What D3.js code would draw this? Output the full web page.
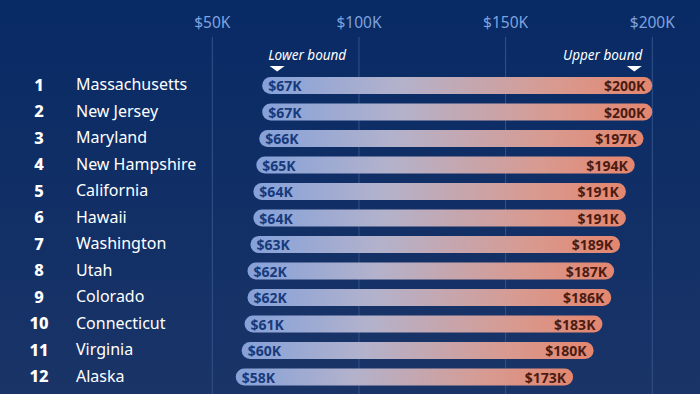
<!DOCTYPE html>
<html>
<head>
<meta charset="utf-8">
<script src="https://cdn.jsdelivr.net/npm/d3@7"></script>
<style>
  html, body { margin: 0; padding: 0; background: #0b2a63; }
  svg { display: block; font-family: "Noto Sans", "Open Sans", sans-serif; }
</style>
</head>
<body>
<div id="chart"></div>
<script>
const states = ["Massachusetts", "New Jersey", "Maryland", "New Hampshire", "California", "Hawaii",
  "Washington", "Utah", "Colorado", "Connecticut", "Virginia", "Alaska"];
const lower = [67, 67, 66, 65, 64, 64, 63, 62, 62, 61, 60, 58];
const upper = [200, 200, 197, 194, 191, 191, 189, 187, 186, 183, 180, 173];
const ticks = [50, 100, 150, 200];

const width = 700;
const height = 394;

const svg = d3.select("#chart")
  .append("svg")
  .attr("width", width)
  .attr("height", height);

const defs = svg.append("defs");

const bg = defs.append("linearGradient")
  .attr("id", "bg")
  .attr("x1", 0).attr("y1", 0).attr("x2", 0).attr("y2", 1);
bg.append("stop").attr("offset", "0%").attr("stop-color", "#082a65");
bg.append("stop").attr("offset", "100%").attr("stop-color", "#1a3467");

const barGrad = defs.append("linearGradient")
  .attr("id", "bar")
  .attr("x1", 0).attr("y1", 0).attr("x2", 1).attr("y2", 0);
barGrad.append("stop").attr("offset", "0%").attr("stop-color", "#85a1d9");
barGrad.append("stop").attr("offset", "35%").attr("stop-color", "#b3b2cc");
barGrad.append("stop").attr("offset", "75%").attr("stop-color", "#d89a90");
barGrad.append("stop").attr("offset", "100%").attr("stop-color", "#e4866f");

svg.append("rect")
  .attr("width", width)
  .attr("height", height)
  .attr("fill", "url(#bg)");

const x = d3.scaleLinear().domain([50, 200]).range([212.3, 652.3]);
const y = d3.scalePoint().domain(states).range([85.5, 377]);
const barH = 17;

// Gridlines + top tick labels
svg.append("g")
  .selectAll("line")
  .data(ticks)
  .join("line")
  .attr("x1", d => x(d)).attr("x2", d => x(d))
  .attr("y1", 37).attr("y2", height)
  .attr("stroke", "#33538a")
  .attr("stroke-width", 1);

svg.append("g")
  .selectAll("text")
  .data(ticks)
  .join("text")
  .attr("x", d => x(d))
  .attr("y", 28)
  .attr("text-anchor", "middle")
  .attr("font-size", 15.5)
  .attr("fill", "#7ea3df")
  .text(d => `$${d}K`);

// Lower / upper bound annotations
const notes = [
  { label: "Lower bound", pos: x(lower[0]) + 15, anchor: "start", tx: x(lower[0]) + 6 },
  { label: "Upper bound", pos: x(upper[0]) - 18, anchor: "end", tx: x(upper[0]) - 10 }
];
notes.forEach(n => {
  svg.append("text")
    .attr("x", n.tx)
    .attr("y", 60)
    .attr("text-anchor", n.anchor)
    .attr("font-size", 13.5)
    .attr("font-style", "italic")
    .attr("fill", "#ffffff")
    .text(n.label);
  svg.append("path")
    .attr("d", `M${n.pos - 7.5},66 L${n.pos + 7.5},66 L${n.pos},71.5 Z`)
    .attr("fill", "#ffffff");
});

const rows = svg.append("g")
  .selectAll("g")
  .data(states)
  .join("g")
  .attr("transform", d => `translate(0, ${y(d)})`);

rows.append("text")
  .attr("x", 39)
  .attr("y", 5)
  .attr("text-anchor", "middle")
  .attr("font-size", 16.5)
  .attr("font-weight", 800)
  .attr("fill", "#ffffff")
  .text((d, i) => i + 1);

rows.append("text")
  .attr("x", 76)
  .attr("y", 4.5)
  .attr("font-size", 16)
  .attr("fill", "#ffffff")
  .text(d => d);

rows.append("rect")
  .attr("x", (d, i) => x(lower[i]))
  .attr("y", -barH / 2)
  .attr("width", (d, i) => x(upper[i]) - x(lower[i]))
  .attr("height", barH)
  .attr("rx", barH / 2)
  .attr("fill", "url(#bar)");

rows.append("text")
  .attr("x", (d, i) => x(lower[i]) + 6)
  .attr("y", 5.5)
  .attr("font-size", 14)
  .attr("font-weight", 700)
  .attr("fill", "#173a7c")
  .text((d, i) => `$${lower[i]}K`);

rows.append("text")
  .attr("x", (d, i) => x(upper[i]) - 7)
  .attr("y", 5.5)
  .attr("text-anchor", "end")
  .attr("font-size", 14)
  .attr("font-weight", 700)
  .attr("fill", "#4a1c12")
  .text((d, i) => `$${upper[i]}K`);
</script>
</body>
</html>
